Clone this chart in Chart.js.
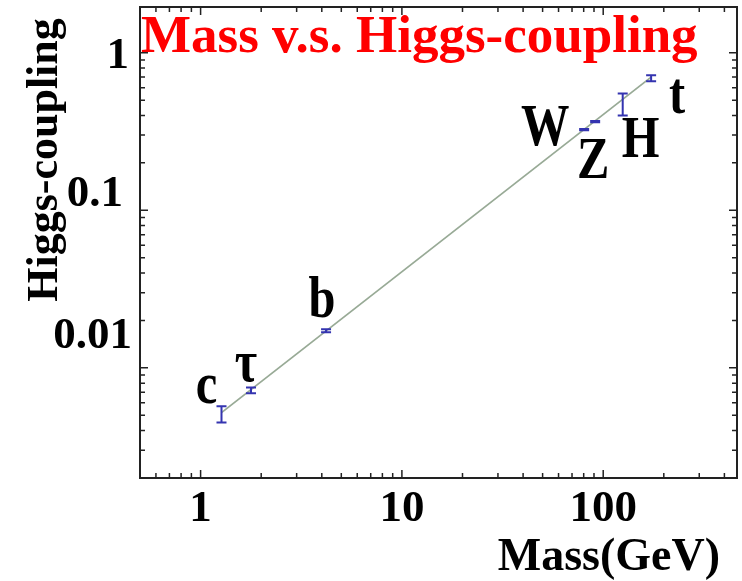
<!DOCTYPE html>
<html>
<head>
<meta charset="utf-8">
<title>Mass v.s. Higgs-coupling</title>
<script src="https://cdn.jsdelivr.net/npm/chart.js@4.4.1/dist/chart.umd.min.js"></script>
<style>
  html, body { margin: 0; padding: 0; background: #fff; }
</style>
</head>
<body>
<canvas id="massChart" width="742" height="581"></canvas>
<script>
// measured couplings per particle (mass in GeV)
const particles = ['c', 'τ', 'b', 'W', 'Z', 'H', 't'];
const masses = [1.27, 1.78, 4.2, 80.4, 91.2, 125, 173];
const couplings = [0.0051, 0.0072, 0.0172, 0.325, 0.365, 0.47, 0.69];
const couplingLow = [0.0045, 0.0069, 0.0168, 0.322, 0.362, 0.40, 0.66];
const couplingHigh = [0.0057, 0.0075, 0.0176, 0.328, 0.368, 0.55, 0.72];

// straight line m / v through the points
const fitMass = [1.27, 173];
const fitCoupling = [0.0052, 0.70];

const xTickValues = [1, 10, 100];
const yTickValues = [1, 0.1, 0.01];
const yTickLabels = ['1', '0.1', '0.01'];

const SERIF = '"Liberation Serif", "Times New Roman", serif';

// where each particle name sits relative to its point (px, baseline)
const labelOffset = {
  'c': [-15, -11], 'τ': [-5, -9], 'b': [-4, -14],
  'W': [-39, 15], 'Z': [-2, 56], 'H': [18, 53], 't': [26, 35]
};
// y labels are shifted a bit off their ticks: [dx, dy]
const yLabelNudge = { '1': [-2, 4], '0.1': [-8, -16], '0.01': [1, -31] };

const decorations = {
  id: 'decorations',
  afterDatasetsDraw(chart) {
    const { ctx, scales: { x, y } } = chart;
    ctx.save();
    // error bars
    ctx.strokeStyle = '#3434b0';
    ctx.lineWidth = 2;
    masses.forEach((m, i) => {
      const px = x.getPixelForValue(m);
      const lo = y.getPixelForValue(couplingLow[i]);
      const hi = y.getPixelForValue(couplingHigh[i]);
      ctx.beginPath();
      ctx.moveTo(px, lo); ctx.lineTo(px, hi);
      ctx.moveTo(px - 5, lo); ctx.lineTo(px + 5, lo);
      ctx.moveTo(px - 5, hi); ctx.lineTo(px + 5, hi);
      ctx.stroke();
    });
    // particle names, a little taller than wide
    ctx.fillStyle = '#000';
    ctx.font = 'bold 51px ' + SERIF;
    ctx.textAlign = 'center';
    ctx.textBaseline = 'alphabetic';
    particles.forEach((p, i) => {
      const [dx, dy] = labelOffset[p];
      const lx = x.getPixelForValue(masses[i]) + dx;
      const ly = y.getPixelForValue(couplings[i]) + dy;
      ctx.save();
      ctx.translate(lx, ly);
      ctx.scale(0.95, 1.15);
      ctx.fillText(p, 0, 0);
      ctx.restore();
    });
    ctx.restore();
  },
  afterDraw(chart) {
    const { ctx, chartArea: a, scales: { x, y } } = chart;
    ctx.save();
    ctx.strokeStyle = '#222';
    ctx.lineWidth = 2;
    ctx.strokeRect(a.left, a.top, a.right - a.left, a.bottom - a.top);

    // inward ticks on all four sides
    ctx.lineWidth = 1.5;
    ctx.beginPath();
    for (let e = -3; e <= 2; e++) {
      for (let k = 1; k <= 9; k++) {
        const v = k * Math.pow(10, e);
        const len = k === 1 ? 8 : 5;
        if (v >= x.min && v <= x.max) {
          const px = x.getPixelForValue(v);
          ctx.moveTo(px, a.bottom); ctx.lineTo(px, a.bottom - len);
          ctx.moveTo(px, a.top); ctx.lineTo(px, a.top + len);
        }
        if (v >= y.min && v <= y.max) {
          const py = y.getPixelForValue(v);
          ctx.moveTo(a.left, py); ctx.lineTo(a.left + len, py);
          ctx.moveTo(a.right, py); ctx.lineTo(a.right - len, py);
        }
      }
    }
    ctx.stroke();

    // y tick labels
    ctx.fillStyle = '#000';
    ctx.font = 'bold 45px ' + SERIF;
    ctx.textAlign = 'right';
    ctx.textBaseline = 'middle';
    yTickValues.forEach((v, i) => {
      const lbl = yTickLabels[i];
      const [dx, dy] = yLabelNudge[lbl];
      ctx.fillText(lbl, 131 + dx, y.getPixelForValue(v) + dy);
    });

    // axis titles
    ctx.font = 'bold 46px ' + SERIF;
    ctx.textAlign = 'right';
    ctx.textBaseline = 'alphabetic';
    ctx.fillText('Mass(GeV)', 720, 570);

    ctx.save();
    ctx.translate(46, 160);
    ctx.rotate(-Math.PI / 2);
    ctx.font = 'bold 44px ' + SERIF;
    ctx.textAlign = 'center';
    ctx.textBaseline = 'middle';
    ctx.fillText('Higgs-coupling', 0, 0);
    ctx.restore();

    // title inside the frame
    ctx.fillStyle = '#ff0000';
    ctx.font = 'bold 53px ' + SERIF;
    ctx.textAlign = 'left';
    ctx.fillText('Mass v.s. Higgs-coupling', 141, 52);
    ctx.restore();
  }
};

new Chart(document.getElementById('massChart').getContext('2d'), {
  type: 'scatter',
  data: {
    datasets: [
      {
        label: 'fit',
        data: fitMass.map((m, i) => ({ x: m, y: fitCoupling[i] })),
        showLine: true,
        borderColor: '#98aa96',
        borderWidth: 1.8,
        pointRadius: 0
      },
      {
        label: 'particles',
        data: masses.map((m, i) => ({ x: m, y: couplings[i] })),
        pointRadius: 0
      }
    ]
  },
  options: {
    responsive: false,
    animation: false,
    devicePixelRatio: 1,
    layout: { padding: { left: 140, right: 5, top: 7, bottom: 41 } },
    plugins: { legend: { display: false }, tooltip: { enabled: false } },
    scales: {
      x: {
        type: 'logarithmic',
        min: 0.5,
        max: 462,
        grid: { display: false, drawTicks: false },
        border: { display: true, color: '#222', width: 2 },
        afterBuildTicks: s => { s.ticks = xTickValues.map(v => ({ value: v })); },
        ticks: {
          color: '#000',
          padding: 4,
          maxRotation: 0,
          autoSkip: false,
          font: { family: SERIF, size: 45, weight: 'bold', lineHeight: 1.2 },
          callback: v => String(v)
        }
      },
      y: {
        type: 'logarithmic',
        min: 0.002,
        max: 1.95,
        grid: { display: false, drawTicks: false },
        border: { display: true, color: '#222', width: 2 },
        ticks: { display: false }
      }
    }
  },
  plugins: [decorations]
});
</script>
</body>
</html>
